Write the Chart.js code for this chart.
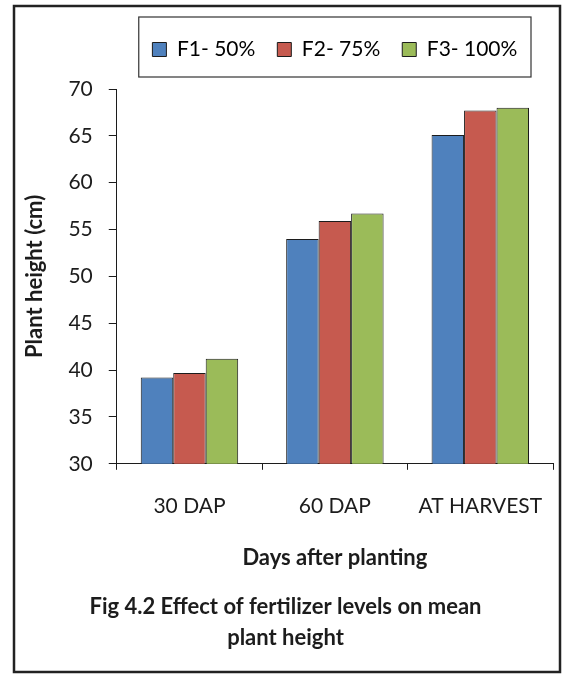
<!DOCTYPE html>
<html>
<head>
<meta charset="utf-8">
<script src="https://cdn.jsdelivr.net/npm/chart.js@4"></script>
<style>
  html, body { margin: 0; padding: 0; background: #fff; }
  #wrap { width: 573px; height: 679px; }
</style>
</head>
<body>
<div id="wrap"><canvas id="myChart" width="573" height="679"></canvas></div>
<script>
// values
var stages = ["30 DAP", "60 DAP", "AT HARVEST"];
var seriesNames = ["F1- 50%", "F2- 75%", "F3- 100%"];
var f1Values = [39.2, 54.0, 65.1];
var f2Values = [39.7, 55.9, 67.7];
var f3Values = [41.2, 56.7, 68.0];
var yTicks = [30, 35, 40, 45, 50, 55, 60, 65, 70];

var barColors = ["#4f81bd", "#c65a4f", "#9bbb59"];
var ink = "#1c1c1c";
var fontName = "Lato, 'Noto Sans', sans-serif";

// frame round the figure and box round the legend
var framePlugin = {
    id: "frame",
    beforeLayout: function (chart) {
        // make the legend taller and leave a gap under its box
        var lg = chart.legend;
        if (lg && !lg._gapAdded) {
            var fit = lg.fit;
            lg.fit = function () {
                fit.call(this);
                this.height += 19;
            };
            lg._gapAdded = true;
        }
    },
    afterDraw: function (chart) {
        var ctx = chart.ctx;
        ctx.save();
        ctx.strokeStyle = "#222";
        ctx.lineWidth = 2.5;
        ctx.strokeRect(14, 6, 546, 666);

        var lg = chart.legend;
        ctx.lineWidth = 1.2;
        ctx.strokeStyle = "#333";
        ctx.strokeRect(lg.left + 22, lg.top, lg.width - 44, lg.height - 12);
        ctx.restore();
    }
};

var barchartData = {
    labels: stages,
    datasets: [
        { label: seriesNames[0], data: f1Values, backgroundColor: barColors[0] },
        { label: seriesNames[1], data: f2Values, backgroundColor: barColors[1] },
        { label: seriesNames[2], data: f3Values, backgroundColor: barColors[2] }
    ].map(function (d) {
        d.borderColor = ink;
        d.borderWidth = 1;
        d.categoryPercentage = 0.67;
        d.barPercentage = 1.0;
        return d;
    })
};

var barchartconfig = {
    type: "bar",
    data: barchartData,
    plugins: [framePlugin],
    options: {
        responsive: false,
        animation: false,
        layout: { padding: { left: 18, right: 20, top: 17, bottom: 26 } },
        plugins: {
            legend: {
                position: "top",
                fullSize: false,
                labels: {
                    color: ink,
                    font: { family: fontName, size: 21 },
                    boxWidth: 14,
                    boxHeight: 14,
                    padding: 22,
                    generateLabels: function (chart) {
                        return chart.data.datasets.map(function (d, i) {
                            return {
                                text: d.label,
                                fillStyle: d.backgroundColor,
                                strokeStyle: ink,
                                lineWidth: 1,
                                datasetIndex: i
                            };
                        });
                    }
                }
            },
            title: {
                display: true,
                position: "bottom",
                text: ["Fig 4.2 Effect of fertilizer levels on mean", "plant height"],
                color: ink,
                font: { family: fontName, size: 22, weight: "bold", lineHeight: 1.4 },
                padding: { top: 20, bottom: 0 }
            },
            tooltip: { enabled: false }
        },
        scales: {
            x: {
                grid: {
                    display: true,
                    drawOnChartArea: false,
                    offset: true,
                    tickLength: 6,
                    color: ink
                },
                border: { color: ink, width: 1 },
                ticks: {
                    color: ink,
                    font: { family: fontName, size: 21 },
                    padding: 24
                },
                title: {
                    display: true,
                    text: "Days after planting",
                    color: ink,
                    font: { family: fontName, size: 22, weight: "bold" },
                    padding: { top: 2, bottom: 0 }
                }
            },
            y: {
                min: 30,
                max: 70,
                afterBuildTicks: function (axis) {
                    axis.ticks = yTicks.map(function (v) { return { value: v }; });
                },
                grid: {
                    display: true,
                    drawOnChartArea: false,
                    tickLength: 8,
                    color: ink
                },
                border: { color: ink, width: 1 },
                ticks: {
                    color: ink,
                    font: { family: fontName, size: 21 },
                    padding: 16
                },
                title: {
                    display: true,
                    text: "Plant height (cm)",
                    color: ink,
                    font: { family: fontName, size: 22, weight: "bold" },
                    padding: { top: 4, bottom: 4 }
                }
            }
        }
    }
};

new Chart("myChart", barchartconfig);
</script>
</body>
</html>
